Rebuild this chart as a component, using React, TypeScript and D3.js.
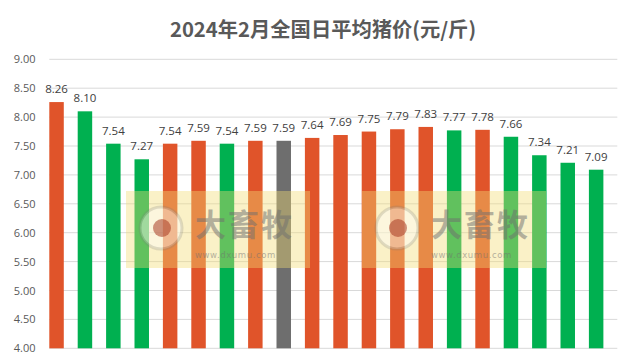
import React from "react";
import * as d3 from "d3";

// 2月各日均价（元/斤）
const days = [
  "1", "2", "3", "4", "5", "6", "7", "8", "9", "10",
  "11", "12", "13", "14", "15", "16", "17", "18", "19", "20",
];
const prices = [
  8.26, 8.1, 7.54, 7.27, 7.54, 7.59, 7.54, 7.59, 7.59, 7.64,
  7.69, 7.75, 7.79, 7.83, 7.77, 7.78, 7.66, 7.34, 7.21, 7.09,
];
// 涨跌：up 橙, down 绿, flat 灰
const trends = [
  "up", "down", "down", "down", "up", "up", "down", "up", "flat", "up",
  "up", "up", "up", "up", "down", "up", "down", "down", "down", "down",
];
const yTicks = [4, 4.5, 5, 5.5, 6, 6.5, 7, 7.5, 8, 8.5, 9];
const title = "2024年2月全国日平均猪价(元/斤)";

const W = 631;
const H = 363;
const margin = { top: 59.3, right: 13.7, bottom: 14.7, left: 49.3 };

const trendColor: Record<string, string> = {
  up: "#E0542A",
  down: "#00B050",
  flat: "#6E6E6E",
};

const Watermark: React.FC<{ x: number; y: number }> = ({ x, y }) => (
  <g transform={`translate(${x},${y})`} pointerEvents="none">
    <rect x={0} y={0} width={184} height={77} fill="#f3dc72" opacity={0.4} />
    <circle cx={35} cy={37} r={21} fill="#ffffff" opacity={0.4} stroke="#7a7a7a" strokeOpacity={0.55} strokeWidth={3} />
    <circle cx={36} cy={37} r={9} fill="#a83a22" opacity={0.55} />
    <text
      x={69}
      y={45}
      fontFamily="'Noto Sans CJK SC', sans-serif"
      fontWeight={700}
      fontSize={31}
      fill="#6f6f6f"
      opacity={0.5}
      letterSpacing={2}
    >
      大畜牧
    </text>
    <text
      x={69}
      y={67}
      fontFamily="'DejaVu Sans', sans-serif"
      fontSize={8.5}
      fill="#6f6f6f"
      opacity={0.5}
      letterSpacing={0.6}
    >
      www.dxumu.com
    </text>
  </g>
);

export default function App() {
  const x = d3
    .scaleBand<string>()
    .domain(days)
    .range([margin.left, W - margin.right]);
  const y = d3
    .scaleLinear()
    .domain([4, 9])
    .range([H - margin.bottom, margin.top]);
  const barW = x.bandwidth() * 0.51;

  return (
    <svg
      width={W}
      height={H}
      style={{ position: "absolute", left: 0, top: 0, background: "#fff" }}
    >
      <text
        x={323}
        y={37}
        textAnchor="middle"
        fontFamily="'Noto Sans CJK SC', sans-serif"
        fontWeight={700}
        fontSize={20.3}
        fill="#595959"
      >
        {title}
      </text>

      {/* 网格线 */}
      {yTicks.map((t) => (
        <line
          key={t}
          x1={margin.left}
          x2={W - margin.right}
          y1={y(t)}
          y2={y(t)}
          stroke="#d9d9d9"
          strokeWidth={1}
        />
      ))}
      {yTicks.map((t) => (
        <text
          key={"l" + t}
          x={35.5}
          y={y(t) + 4}
          textAnchor="end"
          fontFamily="'Open Sans', sans-serif"
          fontSize={11}
          fill="#595959"
        >
          {t.toFixed(2)}
        </text>
      ))}

      {/* 柱子 */}
      {prices.map((v, i) => (
        <rect
          key={days[i]}
          x={x(days[i])!}
          y={y(v)}
          width={barW}
          height={y(4) - y(v)}
          fill={trendColor[trends[i]]}
        />
      ))}
      {prices.map((v, i) => (
        <text
          key={"v" + days[i]}
          x={x(days[i])! + barW / 2}
          y={y(v) - 9}
          textAnchor="middle"
          fontFamily="'Open Sans', sans-serif"
          fontSize={11.5}
          fill="#404040"
        >
          {v.toFixed(2)}
        </text>
      ))}

      <Watermark x={126} y={191} />
      <Watermark x={362} y={191} />
    </svg>
  );
}
